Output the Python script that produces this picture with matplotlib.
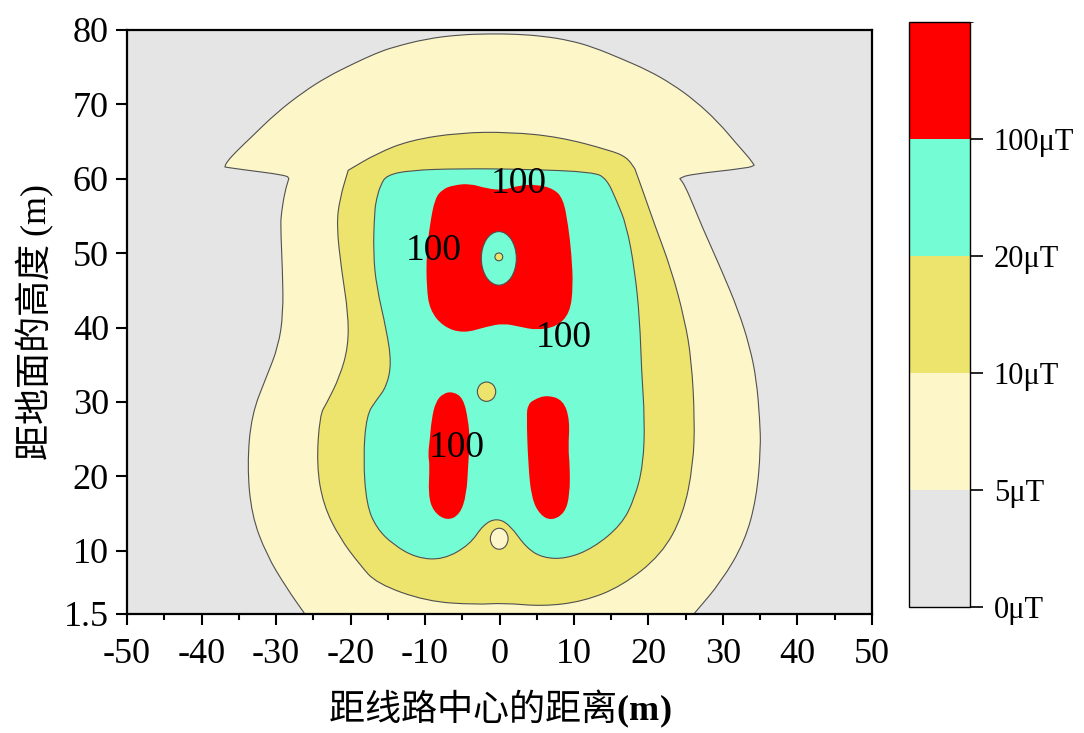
import matplotlib
matplotlib.use("Agg")
import matplotlib.pyplot as plt
from matplotlib.patches import PathPatch, Ellipse
from matplotlib.path import Path
from matplotlib.colors import ListedColormap, BoundaryNorm
from matplotlib.cm import ScalarMappable
from matplotlib.ticker import MultipleLocator

plt.rcParams["font.family"] = ["Liberation Serif", "Noto Sans CJK SC"]
plt.rcParams["axes.unicode_minus"] = False
plt.rcParams["mathtext.fontset"] = "custom"
plt.rcParams["mathtext.rm"] = "Liberation Serif"
plt.rcParams["mathtext.bf"] = "Liberation Serif:bold"

# field levels (μT) and the colour of the band above each level
levels = [0, 5, 10, 20, 100]
level_colors = ["#e5e5e5", "#fdf6c8", "#ede46e", "#74fdd5", "#ff0000"]
level_labels = ["0μT", "5μT", "10μT", "20μT", "100μT"]

# iso-lines (x, height) in metres
contour_5 = [
    (-25.08, 0.0), (-26.13, 1.5), (-28.59, 5.0), (-31.28, 9.46), (-33.29, 14.83),
    (-33.87, 21.54), (-33.29, 28.26), (-31.28, 33.40), (-29.70, 37.42), (-29.03, 41.91),
    (-29.13, 47.72), (-29.40, 53.76), (-29.26, 55.54), (-28.82, 58.23), (-28.28, 60.03),
    (-28.59, 60.47), (-34.86, 61.28), (-36.87, 61.58), (-36.64, 62.26), (-35.10, 63.90),
    (-33.52, 65.40), (-29.93, 68.89), (-26.35, 71.65), (-23.22, 73.66), (-19.64, 75.46),
    (-16.51, 76.90), (-14.27, 77.69), (-9.80, 78.82), (-5.33, 79.36), (-1.30, 79.49),
    (2.28, 79.44), (5.87, 79.17), (9.44, 78.59), (12.58, 77.69), (16.38, 76.13),
    (19.96, 74.56), (23.09, 72.78), (26.21, 70.54), (29.36, 67.62), (31.81, 64.72),
    (33.60, 62.71), (34.19, 61.81), (33.38, 61.45), (25.33, 60.56), (24.20, 60.03),
    (24.87, 59.13), (26.21, 56.00), (27.11, 53.76), (29.80, 47.72), (32.04, 42.35),
    (33.60, 37.42), (34.50, 32.95), (34.94, 27.58), (35.07, 23.79), (34.50, 17.07),
    (32.93, 11.25), (29.80, 5.88), (26.21, 1.64), (24.82, 0.0),
]

contour_10 = [
    (-20.31, 61.14), (-16.51, 63.38), (-12.04, 65.17), (-5.33, 66.20), (1.38, 66.28),
    (8.09, 65.61), (14.81, 63.83), (17.05, 62.93), (18.16, 61.37), (19.29, 58.23),
    (20.85, 53.76), (23.09, 47.72), (24.87, 41.01), (25.77, 35.64), (26.21, 27.58),
    (26.00, 21.54), (24.66, 14.83), (21.74, 9.46), (16.38, 5.21), (11.23, 3.19),
    (5.87, 2.52), (0.50, 2.98), (-3.09, 2.75), (-9.80, 3.19), (-16.51, 5.60),
    (-18.75, 8.12), (-21.44, 11.70), (-23.66, 16.17), (-24.56, 21.54), (-24.12, 28.26),
    (-23.22, 29.80), (-21.44, 33.40), (-20.31, 37.42), (-20.31, 41.91), (-21.21, 47.72),
    (-21.88, 53.76), (-21.44, 57.34),
]

contour_20 = [
    (-15.17, 60.47), (-12.04, 61.14), (-5.33, 61.37), (3.62, 61.28), (12.58, 60.91),
    (14.36, 60.03), (15.70, 57.11), (17.05, 53.76), (18.16, 47.72), (18.83, 41.01),
    (19.06, 34.30), (19.50, 27.58), (19.29, 21.54), (18.16, 17.07), (16.38, 13.49),
    (12.58, 10.36), (8.99, 8.93), (5.87, 9.02), (3.62, 10.36), (1.38, 13.49),
    (-0.40, 14.39), (-2.19, 13.49), (-3.99, 10.81), (-7.56, 8.79), (-11.14, 9.02),
    (-14.27, 10.81), (-16.51, 13.05), (-17.85, 16.17), (-18.30, 22.44), (-17.85, 28.26),
    (-16.51, 30.27), (-15.17, 32.05), (-14.50, 35.19), (-15.17, 39.66), (-16.51, 45.48),
    (-16.95, 50.00), (-16.78, 55.54), (-16.51, 57.34), (-15.97, 59.13),
]

contour_100_upper = [
    (-9.36, 53.76), (-8.68, 57.34), (-7.65, 58.59), (-6.21, 59.13), (-3.99, 59.36),
    (-1.74, 58.69), (0.50, 58.46), (2.72, 59.13), (4.97, 59.22), (7.21, 58.69),
    (8.55, 57.34), (9.22, 53.76), (9.66, 49.96), (9.89, 45.48), (9.44, 41.91),
    (7.65, 40.11), (4.97, 39.66), (2.72, 40.11), (0.50, 40.56), (-1.74, 40.11),
    (-4.87, 39.22), (-7.56, 40.11), (-9.36, 42.35), (-9.80, 45.48), (-9.80, 49.96),
]

contour_100_left = [
    (-7.56, 31.17), (-6.21, 31.38), (-4.87, 30.50), (-4.20, 27.58), (-3.99, 24.90),
    (-4.20, 21.54), (-4.43, 17.52), (-5.33, 14.83), (-7.11, 14.03), (-8.90, 15.28),
    (-9.57, 17.52), (-9.36, 21.54), (-9.60, 22.89), (-9.36, 24.90), (-9.13, 27.58),
    (-8.59, 30.00),
]

contour_100_right = [
    (4.52, 30.27), (6.31, 30.94), (8.55, 30.27), (9.44, 27.58), (9.22, 23.79),
    (9.44, 21.54), (9.44, 17.52), (8.77, 15.06), (6.98, 14.03), (5.41, 14.83),
    (4.30, 17.07), (3.85, 21.54), (3.62, 28.26), (3.83, 29.60),
]

# vertices where an iso-line turns sharply (cusps of the outer lines)
sharp_corners = [(-28.28, 60.03), (-36.87, 61.58), (34.19, 61.81), (24.20, 60.03),
                 (-20.31, 61.14), (18.16, 61.37)]

# small closed islands: centre, width, height and the band index inside
island_x = [-0.09, -0.09, -1.74, -0.04]
island_y = [49.30, 49.50, 31.38, 11.61]
island_w = [4.70, 1.05, 2.46, 2.38]
island_h = [7.20, 1.05, 2.60, 2.82]
island_band = [3, 2, 2, 1]

# inline "100" labels on the 100 μT line
label_x = [2.62, -8.79, 8.66, -5.77]
label_y = [58.05, 49.06, 37.42, 22.66]
label_text = ["100", "100", "100", "100"]

x_ticks = list(range(-50, 51, 10))
y_ticks = [1.5, 10, 20, 30, 40, 50, 60, 70, 80]
y_tick_labels = ["1.5", "10", "20", "30", "40", "50", "60", "70", "80"]


def smooth_closed_path(pts):
    """Closed quadratic-Bezier path using the outline vertices as control points;
    vertices listed in sharp_corners are kept as true corners."""
    n = len(pts)
    mids = [((pts[i][0] + pts[(i + 1) % n][0]) / 2, (pts[i][1] + pts[(i + 1) % n][1]) / 2)
            for i in range(n)]
    verts = [mids[-1]]
    codes = [Path.MOVETO]
    for i in range(n):
        verts += [pts[i], mids[i]]
        if tuple(pts[i]) in sharp_corners:
            codes += [Path.LINETO, Path.LINETO]
        else:
            codes += [Path.CURVE3, Path.CURVE3]
    verts.append(mids[-1])
    codes.append(Path.CLOSEPOLY)
    return Path(verts, codes)


fig = plt.figure(figsize=(10.84, 7.33), dpi=100)
ax = fig.add_axes([0.1172, 0.1624, 0.6872, 0.7967])
ax.set_facecolor(level_colors[0])
ax.set_xlim(-50, 50)
ax.set_ylim(1.5, 80)

edge = "#505050"
bands = [
    (contour_5, 1, True),
    (contour_10, 2, True),
    (contour_20, 3, True),
    (contour_100_upper, 4, False),
    (contour_100_left, 4, False),
    (contour_100_right, 4, False),
]
for pts, band, outlined in bands:
    ax.add_patch(PathPatch(smooth_closed_path(pts), facecolor=level_colors[band],
                           edgecolor=edge if outlined else "none", lw=0.8))

for cx, cy, w, h, band in zip(island_x, island_y, island_w, island_h, island_band):
    ax.add_patch(Ellipse((cx, cy), w, h, facecolor=level_colors[band],
                         edgecolor=edge, lw=0.8))

for tx, ty, t in zip(label_x, label_y, label_text):
    ax.text(tx, ty, t, fontsize=27, ha="center", va="baseline",
            family="Liberation Serif", color="black")

ax.set_xticks(x_ticks)
ax.xaxis.set_minor_locator(MultipleLocator(5))
ax.set_yticks(y_ticks)
ax.set_yticklabels(y_tick_labels)
ax.tick_params(axis="both", which="major", direction="out", length=8, width=1.5,
               labelsize=26)
ax.tick_params(axis="y", which="major", pad=5)
ax.tick_params(axis="x", which="major", pad=9)
ax.tick_params(axis="x", which="minor", direction="out", length=4.5, width=1.5)
for side in ax.spines.values():
    side.set_linewidth(1.6)

fig.text(500 / 1084, 1 - 709 / 733, "距线路中心的距离$\\mathbf{(m)}$",
         fontsize=26, ha="center", va="center",
         family=["Noto Sans CJK SC", "Liberation Serif"])
fig.text(35 / 1084, 1 - 322 / 733, "距地面的高度 $\\mathrm{(m)}$",
         fontsize=26, ha="center", va="center", rotation=90,
         family=["Noto Sans CJK SC", "Liberation Serif"])

# colour bar with equal-height bands
cax = fig.add_axes([0.8386, 0.1719, 0.0563, 0.7981])
cmap = ListedColormap(level_colors)
norm = BoundaryNorm(levels + [200], cmap.N)
cb = fig.colorbar(ScalarMappable(norm=norm, cmap=cmap), cax=cax,
                  spacing="uniform", ticks=levels)
cb.set_ticklabels(level_labels)
cb.outline.set_linewidth(1.0)
cax.tick_params(direction="out", length=9, width=1.2, labelsize=22, pad=8)

fig.savefig("out.png", dpi=100)
